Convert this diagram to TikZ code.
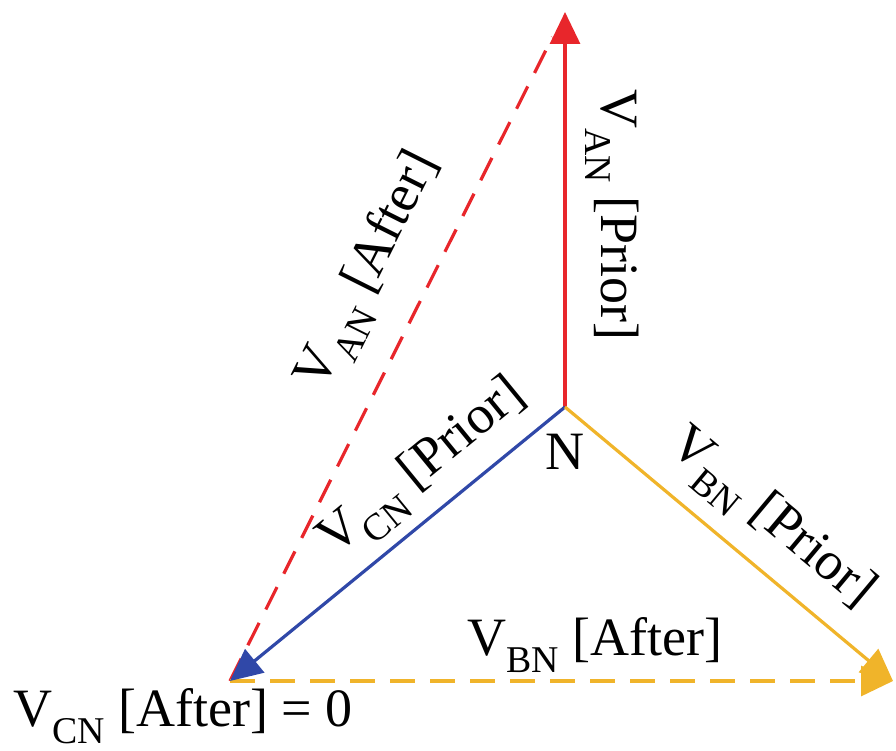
\documentclass[tikz,border=0pt]{standalone}
\usepackage{fontspec}
\setmainfont{Liberation Serif}
\usetikzlibrary{arrows.meta}
\definecolor{vred}{RGB}{232,38,43}
\definecolor{vblue}{RGB}{48,72,168}
\definecolor{vyel}{RGB}{240,180,42}
\newcommand{\sbs}[1]{\textsubscript{#1}}
\begin{document}
\begin{tikzpicture}[x=1pt,y=-1pt,
  tip/.style={-{Triangle[length=32pt,width=30pt]}},
  vec/.style={line width=3.2pt,tip},
  dsh/.style={line width=3.2pt,dash pattern=on 25pt off 15pt},
  lbl/.style={font=\fontsize{54}{60}\selectfont,inner sep=0pt}]
\useasboundingbox (0,0) rectangle (896,751);
\coordinate (N) at (565,407);
\coordinate (A) at (565,12);
\coordinate (C) at (230,681);
\coordinate (B) at (893,681);
\draw[dsh,vred,shorten >=28pt] (C) -- (A);
\draw[dsh,vyel,tip] (C) -- (B);
\draw[vec,vred] (N) -- (A);
\draw[vec,vblue] (N) -- (C);
\draw[vec,vyel] (N) -- (B);
\node[lbl] (n) at (565,452) {N};
\node[lbl,rotate=-90] (lap) at (612,215) {V\sbs{AN} [Prior]};
\node[lbl,rotate=63.4] (laa) at (370,272) {V\sbs{AN} [After]};
\node[lbl,rotate=39.3] (lcp) at (424,470) {V\sbs{CN} [Prior]};
\node[lbl,rotate=-39.9] (lbp) at (770,520) {V\sbs{BN} [Prior]};
\node[lbl] (lba) at (595,645) {V\sbs{BN} [After]};
\node[lbl] (lca) at (183,716) {V\sbs{CN} [After] = 0};
\end{tikzpicture}
\end{document}
